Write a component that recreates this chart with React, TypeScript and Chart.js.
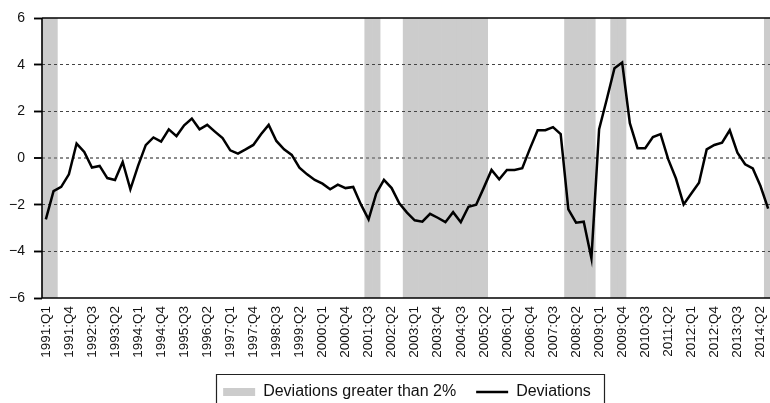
import React, { useEffect, useRef } from 'react';
import { Chart, registerables } from 'chart.js';

Chart.register(...registerables);

// Quarterly categories 1991:Q1 ... 2014:Q3
const startYear = 1991;
const quarterCount = 95;
const quarters: string[] = [];
for (let i = 0; i < quarterCount; i++) {
  quarters.push(`${startYear + Math.floor(i / 4)}:Q${(i % 4) + 1}`);
}

// Deviations (%)
const deviations: number[] = [
  -2.63, -1.42, -1.24, -0.70, 0.62, 0.26, -0.41, -0.34, -0.86, -0.94,
  -0.17, -1.34, -0.34, 0.55, 0.88, 0.70, 1.23, 0.94, 1.40, 1.69,
  1.23, 1.42, 1.13, 0.85, 0.33, 0.19, 0.37, 0.56, 1.02, 1.42,
  0.73, 0.37, 0.13, -0.41, -0.70, -0.94, -1.10, -1.34, -1.14, -1.29,
  -1.24, -1.99, -2.63, -1.52, -0.94, -1.29, -1.94, -2.34, -2.67, -2.73,
  -2.39, -2.56, -2.75, -2.32, -2.75, -2.09, -2.00, -1.27, -0.51, -0.91,
  -0.51, -0.51, -0.44, 0.40, 1.19, 1.19, 1.32, 1.02, -2.20, -2.77,
  -2.73, -4.30, 1.23, 2.52, 3.85, 4.09, 1.49, 0.42, 0.42, 0.90,
  1.02, -0.06, -0.88, -1.99, -1.52, -1.06, 0.37, 0.56, 0.66, 1.19,
  0.23, -0.27, -0.45, -1.20, -2.17,
];

// Quarters shaded as "Deviations greater than 2%"
const bandQuarters: string[] = [
  '1991:Q1', '1991:Q2',
  '2001:Q3', '2001:Q4',
  '2002:Q4', '2003:Q1', '2003:Q2', '2003:Q3', '2003:Q4',
  '2004:Q1', '2004:Q2', '2004:Q3', '2004:Q4', '2005:Q1', '2005:Q2',
  '2008:Q1', '2008:Q2', '2008:Q3', '2008:Q4',
  '2009:Q3', '2009:Q4',
  '2014:Q3',
];

const yMin = -6;
const yMax = 6;
const yStep = 2;
const labelEvery = 3;

const FONT = "'Liberation Sans', Arial, Helvetica, sans-serif";

export default function App() {
  const ref = useRef<HTMLCanvasElement>(null);

  useEffect(() => {
    if (!ref.current) return;

    const bandData = quarters.map((q) => (bandQuarters.includes(q) ? [yMin, yMax] : null));

    const gridOver = {
      id: 'gridOver',
      afterDatasetDraw(chart: any, args: any) {
        if (args.index === 0) {
          const y = chart.scales.y;
          if (y && typeof y.drawGrid === 'function') y.drawGrid(chart.chartArea);
        }
      },
    };

    const frame = {
      id: 'frame',
      afterDatasetsDraw(chart: any) {
        const { left, right, top, bottom } = chart.chartArea;
        const ctx = chart.ctx;
        ctx.save();
        ctx.strokeStyle = '#000';
        ctx.lineWidth = 1.6;
        ctx.setLineDash([]);
        ctx.beginPath();
        ctx.moveTo(left, top);
        ctx.lineTo(right + 2, top);
        ctx.moveTo(left, top);
        ctx.lineTo(left, bottom);
        ctx.moveTo(left, bottom);
        ctx.lineTo(right + 2, bottom);
        ctx.stroke();
        ctx.restore();
      },
    };

    const legendBox = {
      id: 'legendBox',
      afterDraw(chart: any) {
        const hb = chart.legend && chart.legend.legendHitBoxes;
        if (!hb || !hb.length) return;
        const first = hb[0];
        const last = hb[hb.length - 1];
        const l = Math.round(first.left - 7) + 0.5;
        const r = Math.round(last.left + last.width + 13) + 0.5;
        const t = Math.round(first.top - 10) + 0.5;
        const ctx = chart.ctx;
        ctx.save();
        ctx.strokeStyle = '#222';
        ctx.lineWidth = 1.2;
        ctx.setLineDash([]);
        ctx.beginPath();
        ctx.moveTo(l, chart.height + 5);
        ctx.lineTo(l, t);
        ctx.lineTo(r, t);
        ctx.lineTo(r, chart.height + 5);
        ctx.stroke();
        ctx.restore();
      },
    };

    const chart = new Chart(ref.current, {
      type: 'bar',
      data: {
        labels: quarters,
        datasets: [
          {
            type: 'bar',
            label: 'Deviations greater than 2%',
            data: bandData as any,
            backgroundColor: '#cccccc',
            borderWidth: 0,
            barPercentage: 1,
            categoryPercentage: 1,
            order: 1,
          } as any,
          {
            type: 'line',
            label: 'Deviations',
            data: deviations,
            borderColor: '#000',
            backgroundColor: '#000',
            borderWidth: 2.5,
            pointRadius: 0,
            pointBorderWidth: 2.5,
            pointBorderColor: '#000',
            tension: 0,
            fill: false,
            order: 0,
          } as any,
        ],
      },
      options: {
        responsive: false,
        animation: false,
        layout: { padding: { top: 18, left: 0, right: 0, bottom: 0 } },
        plugins: {
          tooltip: { enabled: false },
          legend: {
            position: 'bottom',
            fullSize: false,
            labels: {
              usePointStyle: true,
              pointStyleWidth: 32,
              boxHeight: 8,
              padding: 20,
              color: '#111',
              font: { family: FONT, size: 16 },
              sort: (a: any, b: any) => a.datasetIndex - b.datasetIndex,
              generateLabels: (c: any) => {
                const items = (Chart.defaults.plugins.legend.labels as any).generateLabels(c);
                return items.map((it: any) => ({
                  ...it,
                  pointStyle: it.datasetIndex === 0 ? 'rect' : 'line',
                  lineWidth: it.datasetIndex === 0 ? 0 : 2.5,
                  strokeStyle: '#000',
                  fillStyle: it.datasetIndex === 0 ? '#cccccc' : '#000',
                }));
              },
            },
          } as any,
        },
        scales: {
          x: {
            offset: true,
            grid: { display: false, drawTicks: false },
            border: { display: false },
            ticks: {
              autoSkip: false,
              maxRotation: 90,
              minRotation: 90,
              padding: 8,
              color: '#111',
              font: { family: FONT, size: 13.5 },
              callback: function (this: any, v: any, i: number) {
                return i % labelEvery === 0 ? this.getLabelForValue(v) : null;
              },
            },
            afterFit: (s: any) => {
              s.height = 66;
              s.paddingLeft = 0;
              s.paddingRight = 0;
            },
          } as any,
          y: {
            min: yMin,
            max: yMax,
            ticks: {
              stepSize: yStep,
              padding: 9,
              color: '#111',
              font: { family: FONT, size: 14 },
              callback: (v: any) => (Number(v) < 0 ? '\u2212' + Math.abs(Number(v)) : String(v)),
            },
            grid: {
              color: (c: any) =>
                c.tick && c.tick.value === 0
                  ? '#8c8c8c'
                  : c.tick && Math.abs(c.tick.value) === yMax
                  ? 'rgba(0,0,0,0)'
                  : '#444',
              lineWidth: (c: any) => (c.tick && c.tick.value === 0 ? 2 : 1),
              tickColor: '#000',
              tickLength: 8,
              tickWidth: 1.5,
              tickBorderDash: [],
            },
            border: { display: false, dash: [3, 3] },
            afterFit: (s: any) => {
              s.width = 42;
            },
          } as any,
        },
      },
      plugins: [gridOver, frame, legendBox],
    });

    return () => chart.destroy();
  }, []);

  return (
    <div
      style={{
        position: 'fixed',
        left: 0,
        top: 0,
        width: 770,
        height: 403,
        overflow: 'hidden',
        background: '#fff',
      }}
    >
      <canvas ref={ref} width={772} height={410} style={{ display: 'block' }} />
    </div>
  );
}
